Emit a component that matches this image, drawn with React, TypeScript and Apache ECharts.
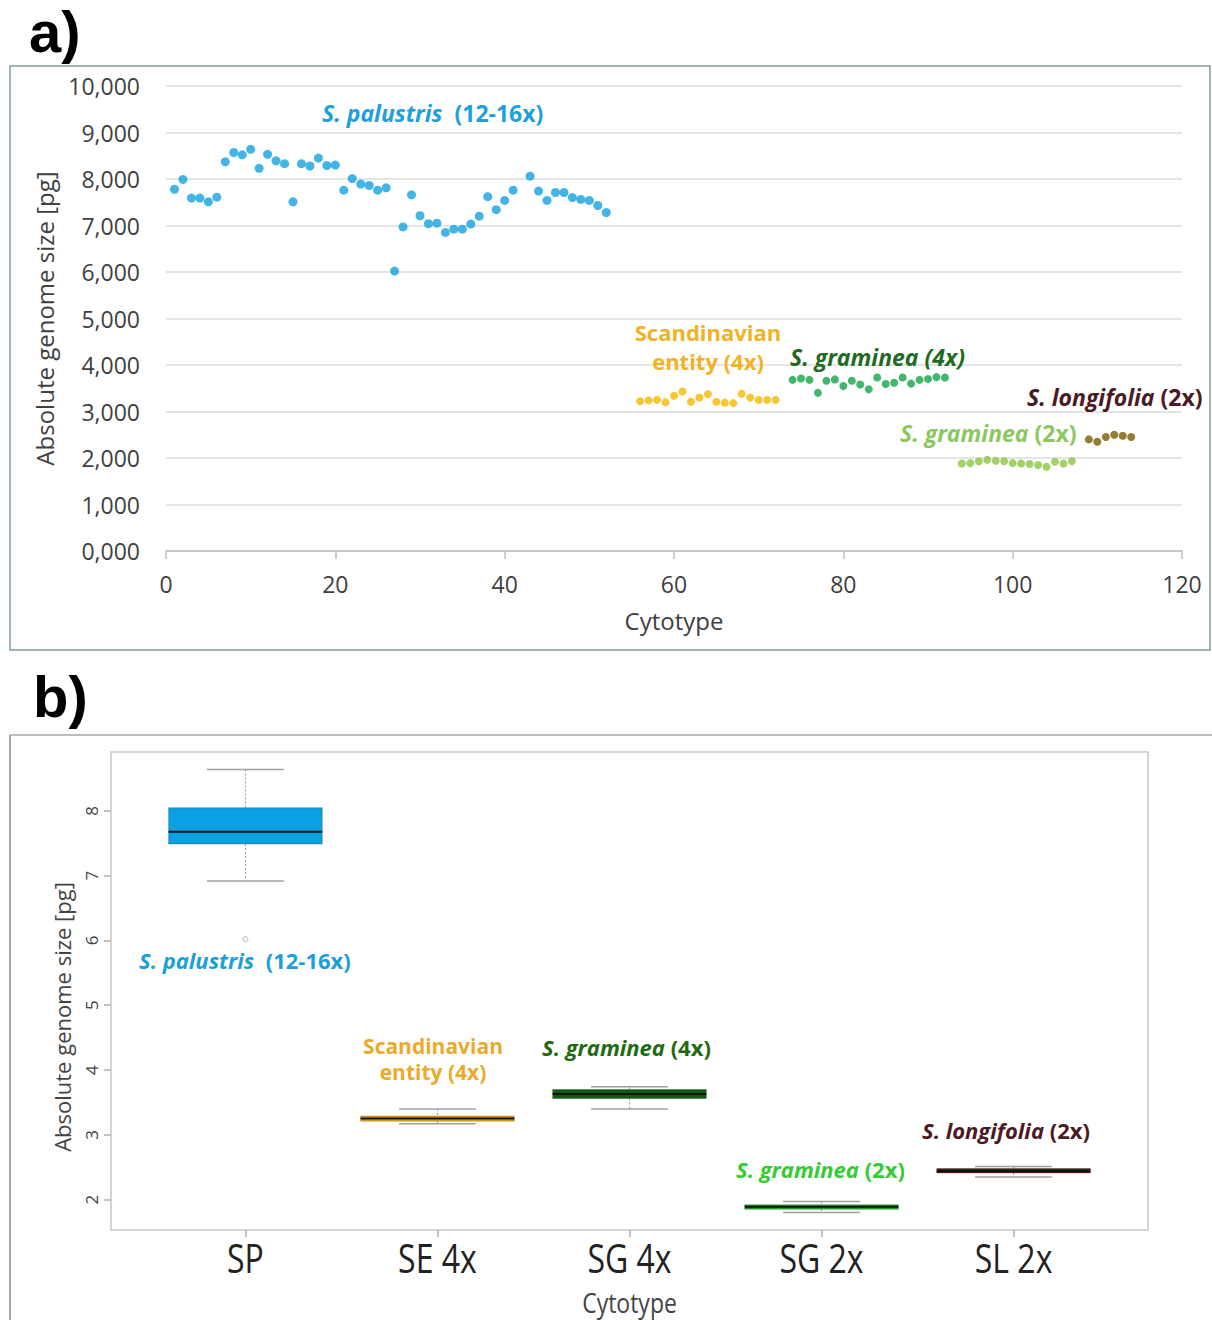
import React, { useEffect, useRef } from "react";
import * as echarts from "echarts";

// ---- Panel a: absolute genome size (pg) by cytotype number ----
const spCytotype = [
  1, 2, 3, 4, 5, 6, 7, 8, 9, 10, 11, 12, 13, 14, 15, 16, 17, 18, 19, 20, 21, 22, 23, 24, 25, 26,
  27, 28, 29, 30, 31, 32, 33, 34, 35, 36, 37, 38, 39, 40, 41, 43, 44, 45, 46, 47, 48, 49, 50, 51, 52,
];
const spSize = [
  7.78, 7.99, 7.59, 7.59, 7.51, 7.61, 8.37, 8.57, 8.52, 8.64, 8.23, 8.53, 8.39, 8.33, 7.51, 8.33,
  8.28, 8.45, 8.29, 8.3, 7.76, 8.01, 7.89, 7.86, 7.76, 7.81, 6.02, 6.97, 7.66, 7.21, 7.04, 7.05,
  6.85, 6.92, 6.92, 7.03, 7.2, 7.62, 7.34, 7.54, 7.76, 8.06, 7.74, 7.54, 7.71, 7.71, 7.6, 7.56,
  7.54, 7.43, 7.28,
];
const seCytotype = [56, 57, 58, 59, 60, 61, 62, 63, 64, 65, 66, 67, 68, 69, 70, 71, 72];
const seSize = [3.22, 3.24, 3.25, 3.2, 3.34, 3.43, 3.21, 3.3, 3.37, 3.21, 3.19, 3.18, 3.38, 3.3, 3.25, 3.25, 3.25];
const sg4Cytotype = [74, 75, 76, 77, 78, 79, 80, 81, 82, 83, 84, 85, 86, 87, 88, 89, 90, 91, 92];
const sg4Size = [3.68, 3.71, 3.68, 3.4, 3.66, 3.69, 3.55, 3.66, 3.58, 3.48, 3.73, 3.59, 3.62, 3.73, 3.6, 3.68, 3.7, 3.74, 3.73];
const sg2Cytotype = [94, 95, 96, 97, 98, 99, 100, 101, 102, 103, 104, 105, 106, 107];
const sg2Size = [1.88, 1.89, 1.93, 1.96, 1.94, 1.93, 1.89, 1.88, 1.87, 1.85, 1.81, 1.92, 1.88, 1.93];
const slCytotype = [109, 110, 111, 112, 113, 114];
const slSize = [2.4, 2.35, 2.45, 2.5, 2.48, 2.45];

const xTicksA = { min: 0, max: 120, interval: 20 };
const yTicksA = { min: 0, max: 10, interval: 1 };

// ---- Panel b: box plot summary per cytotype ----
const boxCategories = ["SP", "SE 4x", "SG 4x", "SG 2x", "SL 2x"];
const boxMin = [6.92, 3.17, 3.4, 1.8, 2.35];
const boxQ1 = [7.49, 3.21, 3.56, 1.85, 2.41];
const boxMedian = [7.68, 3.25, 3.63, 1.89, 2.44];
const boxQ3 = [8.05, 3.29, 3.7, 1.92, 2.48];
const boxMax = [8.64, 3.4, 3.74, 1.97, 2.51];
const spOutliers = [6.02];
const yTicksB = [2, 3, 4, 5, 6, 7, 8];
const boxYRange = { min: 1.53, max: 8.91 };
const boxXRange = { min: 0.3, max: 5.7 };

const FONT = "'Open Sans', 'DejaVu Sans', sans-serif";

const dotColors = ["#13a3e0", "#f5b800", "#12a54a", "#8dc63f", "#7a5b00"];
const boxColors = ["#0aa0e2", "#e9a628", "#0b5e12", "#23a81f", "#5b1414"];

const pairs = (xs: number[], ys: number[]) => xs.map((x, i) => [x, ys[i]]);

function App() {
  const ref = useRef<HTMLDivElement>(null);

  useEffect(() => {
    document.body.style.margin = "0";
    const chart = echarts.init(ref.current!, null, { renderer: "svg" });

    const boxData = boxCategories.map((_, i) => [
      i + 1,
      boxMin[i],
      boxQ1[i],
      boxMedian[i],
      boxQ3[i],
      boxMax[i],
    ]);

    const scatter = (name: string, xs: number[], ys: number[], color: string, size: number) => ({
      name,
      type: "scatter",
      xAxisIndex: 0,
      yAxisIndex: 0,
      data: pairs(xs, ys),
      symbolSize: size,
      itemStyle: { color },
      silent: true,
    });

    const rich = (color: string, size: number) => ({
      i: { fontFamily: FONT, fontSize: size, fontWeight: "bold", fontStyle: "italic", fill: color, color },
      n: { fontFamily: FONT, fontSize: size, fontWeight: "bold", fill: color, color },
    });

    const label = (x: number, y: number, text: string, color: string, size = 22, align = "left") => ({
      type: "text",
      x,
      y,
      z: 100,
      style: {
        text,
        rich: rich(color, size),
        fontFamily: FONT,
        fontSize: size,
        fontWeight: "bold",
        fill: color,
        align,
        verticalAlign: "middle",
      },
    });

    const baseGraphic: any[] = [
      // panel frames
      {
        type: "rect",
        z: 50,
        shape: { x: 10, y: 66, width: 1200, height: 584 },
        style: { fill: "none", stroke: "#86a094", lineWidth: 1.5 },
      },
      {
        type: "line",
        z: 50,
        shape: { x1: 10, y1: 735, x2: 1212, y2: 735 },
        style: { stroke: "#bdbdbd", lineWidth: 2 },
      },
      {
        type: "line",
        z: 50,
        shape: { x1: 10, y1: 735, x2: 10, y2: 1320 },
        style: { stroke: "#8a8a8a", lineWidth: 1.5 },
      },
      // panel letters
      {
        type: "text",
        x: 29,
        y: 31,
        z: 100,
        style: {
          text: "a)",
          fontFamily: "'Liberation Sans', Arial, sans-serif",
          fontSize: 58,
          fontWeight: "bold",
          fill: "#000",
          verticalAlign: "middle",
        },
      },
      {
        type: "text",
        x: 33,
        y: 696,
        z: 100,
        style: {
          text: "b)",
          fontFamily: "'Liberation Sans', Arial, sans-serif",
          fontSize: 58,
          fontWeight: "bold",
          fill: "#000",
          verticalAlign: "middle",
        },
      },
      // panel a group labels
      label(322, 113, "{i|S. palustris}  {n|(12-16x)}", "#1ea0dc", 23),
      label(708, 332, "Scandinavian", "#f0b323", 22, "center"),
      label(708, 361, "entity (4x)", "#f0b323", 22, "center"),
      label(790, 357, "{i|S. graminea (4x)}", "#1f6b1f", 23),
      label(1027, 397, "{i|S. longifolia} {n|(2x)}", "#4b1a22", 23),
      label(900, 433, "{i|S. graminea} {n|(2x)}", "#8cc860", 23),
      // panel b group labels
      label(139, 960, "{i|S. palustris}  {n|(12-16x)}", "#1b9fd9"),
      label(433, 1046, "Scandinavian", "#ebaa2a", 21, "center"),
      label(433, 1072, "entity (4x)", "#ebaa2a", 21, "center"),
      label(542, 1047, "{i|S. graminea} {n|(4x)}", "#1e6b12"),
      label(736, 1169, "{i|S. graminea} {n|(2x)}", "#33cc33"),
      label(922, 1130, "{i|S. longifolia} {n|(2x)}", "#4b1a22"),
      // panel b y axis title
      {
        type: "text",
        x: 62,
        y: 1017,
        rotation: Math.PI / 2,
        z: 100,
        style: {
          text: "Absolute genome size [pg]",
          fontFamily: FONT,
          fontSize: 22,
          fill: "#444",
          align: "center",
          verticalAlign: "middle",
        },
      },
    ];

    chart.setOption({
      animation: false,
      backgroundColor: "#ffffff",
      textStyle: { fontFamily: FONT },
      grid: [
        { left: 166, right: 30, top: 86, bottom: 769, containLabel: false },
        {
          left: 111,
          right: 64,
          top: 752,
          bottom: 90,
          show: true,
          borderColor: "#c8c8c8",
          borderWidth: 1.5,
          backgroundColor: "transparent",
        },
      ],
      xAxis: [
        {
          type: "value",
          gridIndex: 0,
          ...xTicksA,
          name: "Cytotype",
          nameLocation: "middle",
          nameGap: 57,
          nameTextStyle: { fontSize: 24, color: "#404040", fontFamily: FONT },
          axisLine: { show: true, lineStyle: { color: "#bfbfbf", width: 1.5 } },
          axisTick: { show: true, length: 8, lineStyle: { color: "#bfbfbf", width: 1.5 } },
          axisLabel: { fontSize: 23, color: "#404040", margin: 21, fontFamily: FONT },
          splitLine: { show: false },
        },
        {
          type: "value",
          gridIndex: 1,
          ...boxXRange,
          axisLine: { show: false },
          axisTick: {
            show: true,
            length: 7,
            customValues: [1, 2, 3, 4, 5],
            lineStyle: { color: "#b0b0b0", width: 1.5 },
          },
          axisLabel: { show: false },
          splitLine: { show: false },
        },
      ],
      yAxis: [
        {
          type: "value",
          gridIndex: 0,
          ...yTicksA,
          name: "Absolute genome size [pg]",
          nameLocation: "middle",
          nameGap: 110,
          nameTextStyle: { fontSize: 24, color: "#404040", fontFamily: FONT },
          axisLine: { show: false },
          axisTick: { show: false },
          axisLabel: {
            fontSize: 23,
            color: "#404040",
            margin: 26,
            fontFamily: FONT,
            formatter: (v: number) => v.toFixed(3).replace(".", ","),
          },
          splitLine: { show: true, lineStyle: { color: "#dcdcdc", width: 1.5 } },
        },
        {
          type: "value",
          gridIndex: 1,
          ...boxYRange,
          axisLine: { show: false },
          axisTick: {
            show: true,
            length: 7,
            customValues: yTicksB,
            lineStyle: { color: "#b0b0b0", width: 1.5 },
          },
          axisLabel: {
            customValues: yTicksB,
            rotate: 90,
            fontSize: 17,
            color: "#444",
            margin: 11,
            fontFamily: FONT,
          },
          splitLine: { show: false },
        },
      ],
      series: [
        scatter("S. palustris", spCytotype, spSize, dotColors[0], 9),
        scatter("Scandinavian entity", seCytotype, seSize, dotColors[1], 8),
        scatter("S. graminea 4x", sg4Cytotype, sg4Size, dotColors[2], 8),
        scatter("S. graminea 2x", sg2Cytotype, sg2Size, dotColors[3], 8),
        scatter("S. longifolia", slCytotype, slSize, dotColors[4], 8),
        {
          name: "boxes",
          type: "custom",
          xAxisIndex: 1,
          yAxisIndex: 1,
          data: boxData,
          encode: { x: 0, y: [1, 2, 3, 4, 5] },
          silent: true,
          renderItem: (params: any, api: any) => {
            const x = api.value(0);
            const lo = api.coord([x, api.value(1)]);
            const q1 = api.coord([x, api.value(2)]);
            const md = api.coord([x, api.value(3)]);
            const q3 = api.coord([x, api.value(4)]);
            const hi = api.coord([x, api.value(5)]);
            const w = api.size([0.8, 0])[0];
            const cx = lo[0];
            const whisker = { stroke: "#9a9a9a", lineWidth: 1, lineDash: [2, 2] };
            const cap = { stroke: "#a0a0a0", lineWidth: 1.5 };
            return {
              type: "group",
              children: [
                { type: "line", shape: { x1: cx, y1: hi[1], x2: cx, y2: q3[1] }, style: whisker },
                { type: "line", shape: { x1: cx, y1: q1[1], x2: cx, y2: lo[1] }, style: whisker },
                { type: "line", shape: { x1: cx - w / 4, y1: hi[1], x2: cx + w / 4, y2: hi[1] }, style: cap },
                { type: "line", shape: { x1: cx - w / 4, y1: lo[1], x2: cx + w / 4, y2: lo[1] }, style: cap },
                {
                  type: "rect",
                  shape: { x: cx - w / 2, y: q3[1], width: w, height: Math.max(q1[1] - q3[1], 1) },
                  style: { fill: boxColors[params.dataIndex], stroke: "rgba(0,0,0,0.3)", lineWidth: 0.8 },
                },
                {
                  type: "line",
                  shape: { x1: cx - w / 2, y1: md[1], x2: cx + w / 2, y2: md[1] },
                  style: { stroke: "#111", lineWidth: 2 },
                },
              ],
            };
          },
        },
        {
          name: "outliers",
          type: "scatter",
          xAxisIndex: 1,
          yAxisIndex: 1,
          data: spOutliers.map((v) => [1, v]),
          symbol: "circle",
          symbolSize: 5,
          itemStyle: { color: "#ffffff", borderColor: "#9a9a9a", borderWidth: 1 },
          silent: true,
        },
      ],
      graphic: baseGraphic,
    });

    // Category labels and axis title of the box plot, placed from the axis scale
    const finder = { xAxisIndex: 1, yAxisIndex: 1 };
    const categoryLabels = boxCategories.map((name, i) => {
      const p = chart.convertToPixel(finder as any, [i + 1, boxYRange.min]) as number[];
      return {
        type: "text",
        x: p[0],
        y: p[1] + 28,
        z: 100,
        scaleY: 1.25,
        style: {
          text: name,
          fontFamily: FONT,
          fontSize: 32,
          fill: "#222",
          align: "center",
          verticalAlign: "middle",
        },
      };
    });
    const mid = chart.convertToPixel(finder as any, [(boxXRange.min + boxXRange.max) / 2, boxYRange.min]) as number[];
    const xTitle = {
      type: "text",
      x: mid[0],
      y: mid[1] + 72,
      z: 100,
      scaleY: 1.2,
      style: {
        text: "Cytotype",
        fontFamily: FONT,
        fontSize: 23,
        fill: "#444",
        align: "center",
        verticalAlign: "middle",
      },
    };
    chart.setOption({ graphic: [...baseGraphic, ...categoryLabels, xTitle] });

    return () => chart.dispose();
  }, []);

  return <div ref={ref} style={{ width: 1212, height: 1320 }} />;
}

export default App;
